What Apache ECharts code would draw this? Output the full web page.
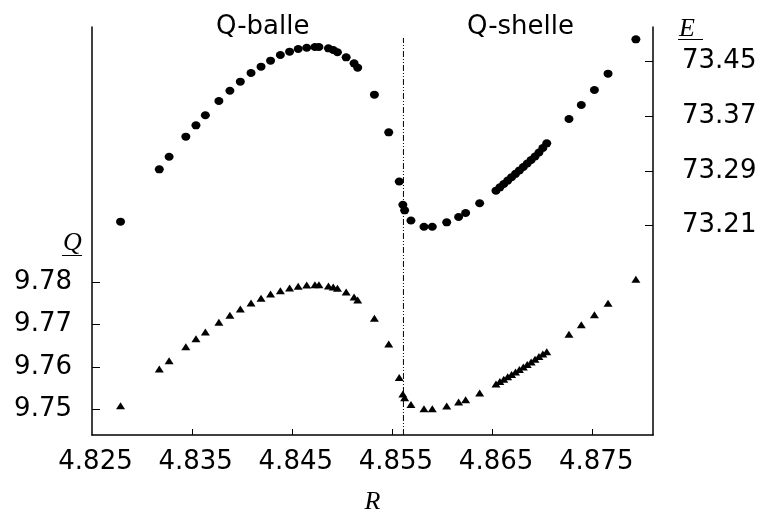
<!DOCTYPE html>
<html>
<head>
<meta charset="utf-8">
<script src="https://cdn.jsdelivr.net/npm/echarts@6/dist/echarts.min.js"></script>
<style>html,body{margin:0;padding:0;background:#fff;}#c{width:761px;height:512px;}</style>
</head>
<body>
<div id="c"></div>
<script>
// Radius R (shared x values)
const R = [4.82785, 4.83172, 4.83270, 4.83437, 4.83538, 4.83632, 4.83767, 4.83877, 4.83981, 4.84088,
  4.84188, 4.84283, 4.84381, 4.84473, 4.84559, 4.84644, 4.84726, 4.84766, 4.84861, 4.84909,
  4.84951, 4.85038, 4.85117, 4.85153, 4.85320, 4.85463, 4.85568, 4.85604, 4.85622, 4.85685,
  4.85815, 4.85898, 4.86042, 4.86161, 4.86231, 4.86371, 4.86534, 4.86573, 4.86612, 4.86651,
  4.86690, 4.86729, 4.86768, 4.86807, 4.86846, 4.86885, 4.86924, 4.86963, 4.87002, 4.87041,
  4.87263, 4.87386, 4.87517, 4.87653, 4.87931];
// Energy E (right axis, circles)
const E = [73.2153, 73.2921, 73.3106, 73.3400, 73.3567, 73.3714, 73.3923, 73.4074, 73.4207, 73.4334,
  73.4427, 73.4515, 73.4598, 73.4647, 73.4686, 73.4705, 73.4716, 73.4716, 73.4696, 73.4672,
  73.4638, 73.4564, 73.4476, 73.4412, 73.4016, 73.3464, 73.2743, 73.2401, 73.2320, 73.2170,
  73.2079, 73.2079, 73.2144, 73.2222, 73.2280, 73.2423, 73.2608, 73.2657, 73.2706, 73.2756,
  73.2806, 73.2855, 73.2905, 73.2955, 73.3007, 73.3058, 73.3109, 73.3168, 73.3234, 73.3303,
  73.3659, 73.3865, 73.4085, 73.4324, 73.4828];
// Charge Q (left axis, triangles)
const Q = [9.75085, 9.75952, 9.76148, 9.76479, 9.76668, 9.76826, 9.77055, 9.77221, 9.77370, 9.77511,
  9.77622, 9.77724, 9.77802, 9.77866, 9.77906, 9.77936, 9.77944, 9.77944, 9.77913, 9.77889,
  9.77859, 9.77771, 9.77653, 9.77582, 9.77152, 9.76543, 9.75751, 9.75361, 9.75272, 9.75113,
  9.75014, 9.75014, 9.75078, 9.75172, 9.75227, 9.75385, 9.75598, 9.75654, 9.75711, 9.75768,
  9.75824, 9.75881, 9.75938, 9.75997, 9.76056, 9.76117, 9.76181, 9.76245, 9.76304, 9.76361,
  9.76772, 9.76999, 9.77235, 9.77504, 9.78071];
// Transition between Q-balls and Q-shells
const R_TRANSITION = 4.8561;
const TRANSITION_Q = [9.74393, 9.83772];
// Tick labels
const X_TICKS = [4.825, 4.835, 4.845, 4.855, 4.865, 4.875];
const Q_TICKS = [9.75, 9.76, 9.77, 9.78];
const E_TICKS = [73.21, 73.29, 73.37, 73.45];
const REGION_LABELS = ['Q-balle', 'Q-shelle'];

const chart = echarts.init(document.getElementById('c'), null, {renderer: 'canvas'});
const labelFont = {fontFamily: 'DejaVu Sans', fontSize: 26, color: '#000'};
const nameFont = {fontFamily: 'Liberation Serif', fontStyle: 'italic', fontSize: 26, fill: '#000'};

chart.setOption({
  animation: false,
  backgroundColor: '#fff',
  grid: {left: 92, right: 108, top: 27, bottom: 77, containLabel: false, outerBoundsMode: 'none'},
  xAxis: {
    type: 'value', min: 4.825, max: 4.88102,
    name: 'R', nameLocation: 'middle', nameGap: 54,
    nameTextStyle: {fontFamily: 'Liberation Serif', fontStyle: 'italic', fontSize: 26, color: '#000'},
    axisLine: {show: true, lineStyle: {color: '#000', width: 1.5}},
    axisTick: {show: true, inside: true, length: 6, lineStyle: {color: '#000'}, customValues: X_TICKS.slice(1)},
    axisLabel: Object.assign({margin: 14, padding: [0, 0, 0, 7], customValues: X_TICKS,
      formatter: v => v.toFixed(3)}, labelFont),
    splitLine: {show: false}
  },
  yAxis: [{
    type: 'value', position: 'left', min: 9.74393, max: 9.84031,
    axisLine: {show: true, lineStyle: {color: '#000', width: 1.5}},
    axisTick: {show: true, inside: true, length: 8, lineStyle: {color: '#000'}, customValues: Q_TICKS},
    axisLabel: Object.assign({margin: 20, customValues: Q_TICKS, formatter: v => v.toFixed(2)}, labelFont),
    splitLine: {show: false}
  }, {
    type: 'value', position: 'right', min: 72.90239, max: 73.5009,
    axisLine: {show: true, lineStyle: {color: '#000', width: 1.5}},
    axisTick: {show: true, inside: true, length: 8, lineStyle: {color: '#000'}, customValues: E_TICKS},
    axisLabel: Object.assign({margin: 29, customValues: E_TICKS, formatter: v => v.toFixed(2)}, labelFont),
    splitLine: {show: false}
  }],
  graphic: [
    {type: 'text', left: 262 - 46, top: 14, style: {text: REGION_LABELS[0], font: '26px "DejaVu Sans"', fill: '#000'}},
    {type: 'text', left: 521 - 54, top: 14, style: {text: REGION_LABELS[1], font: '26px "DejaVu Sans"', fill: '#000'}},
    {type: 'text', left: 63, top: 230, style: Object.assign({text: 'Q'}, nameFont)},
    {type: 'line', shape: {x1: 62, y1: 255.5, x2: 82, y2: 255.5}, style: {stroke: '#000', lineWidth: 1}},
    {type: 'text', left: 679, top: 16, style: Object.assign({text: 'E'}, nameFont)},
    {type: 'line', shape: {x1: 678, y1: 39.5, x2: 703, y2: 39.5}, style: {stroke: '#000', lineWidth: 1}}
  ],
  series: [{
    type: 'line', yAxisIndex: 0, data: TRANSITION_Q.map(q => [R_TRANSITION, q]),
    symbol: 'none', silent: true,
    lineStyle: {color: '#000', width: 1, type: [6, 2, 1, 2, 1, 2]}
  }, {
    type: 'scatter', yAxisIndex: 1, data: R.map((r, i) => [r, E[i]]),
    symbol: 'circle', symbolSize: [9, 8], itemStyle: {color: '#000', opacity: 1}
  }, {
    type: 'scatter', yAxisIndex: 0, data: R.map((r, i) => [r, Q[i]]),
    symbol: 'triangle', symbolSize: [9, 7], itemStyle: {color: '#000', opacity: 1}
  }]
});
</script>
</body>
</html>
